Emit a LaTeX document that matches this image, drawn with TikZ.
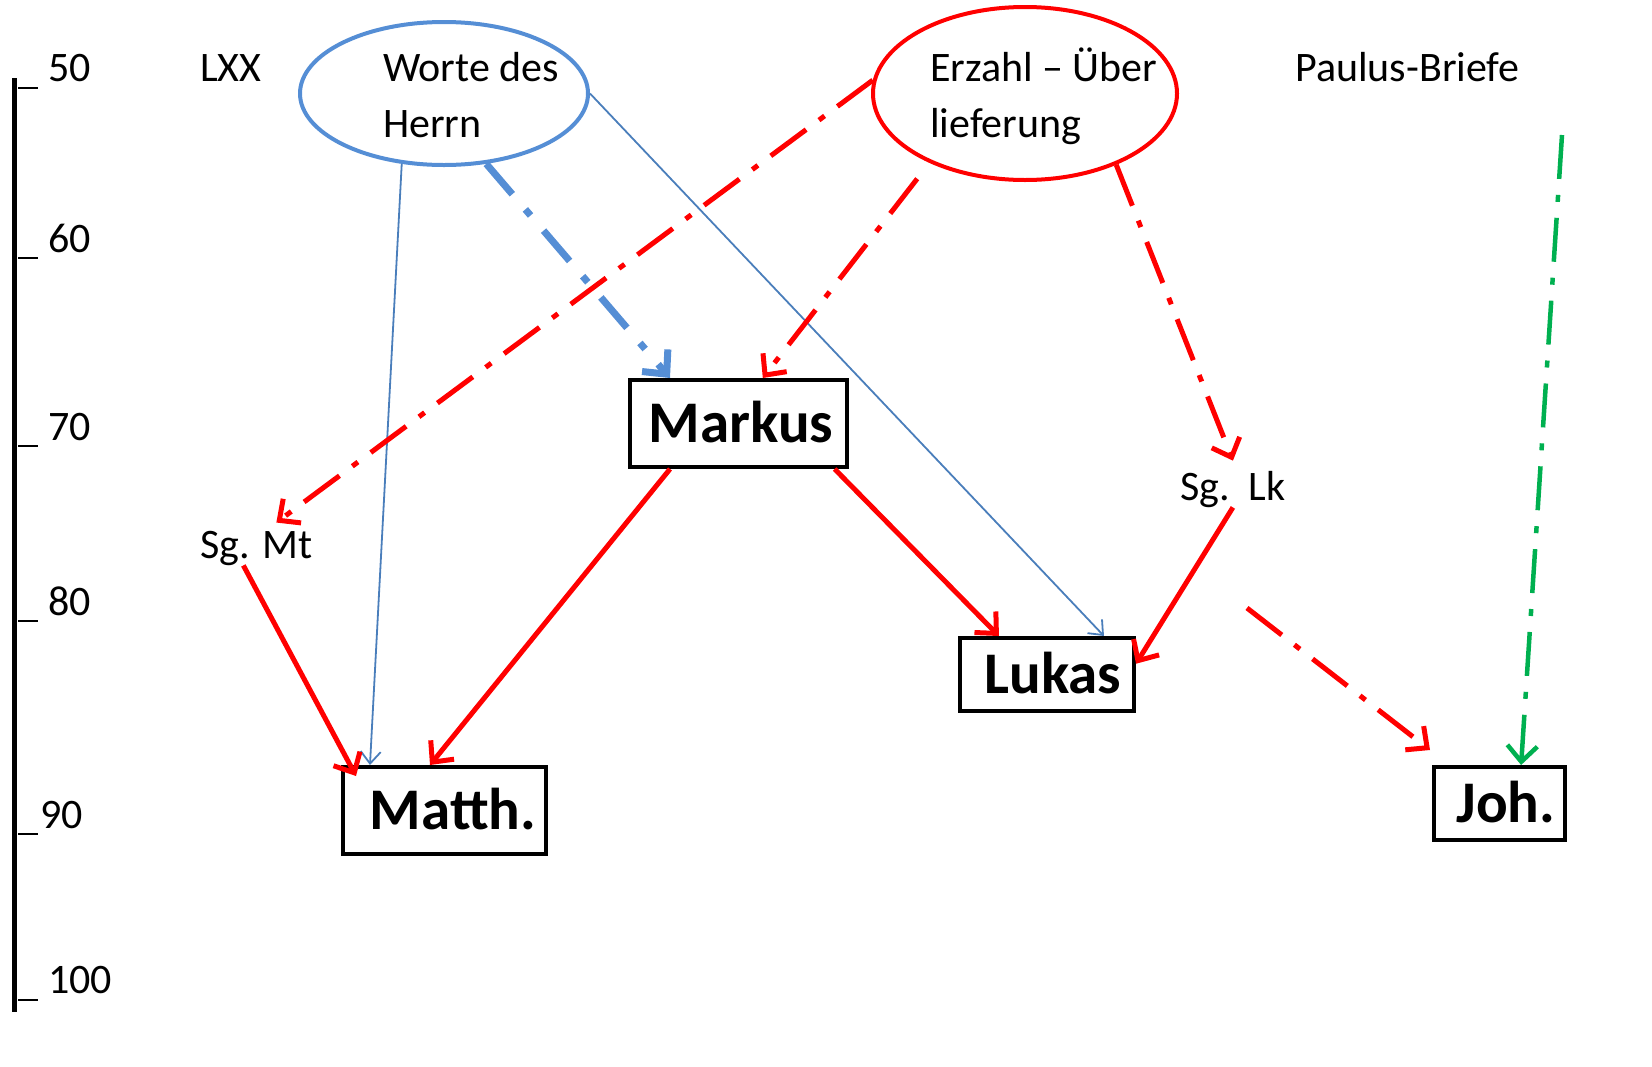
\documentclass[tikz,border=0pt]{standalone}
\usepackage{fontspec}
\setmainfont{Carlito}
\usetikzlibrary{shapes.geometric,arrows.meta,calc}
\definecolor{ared}{HTML}{FF0000}
\definecolor{ablue}{HTML}{558ED5}
\definecolor{tblue}{HTML}{4A7EBB}
\definecolor{agreen}{HTML}{00B050}
\begin{document}
\begin{tikzpicture}[x=1pt,y=-1pt,
  lbl/.style={font=\fontsize{42}{50}\selectfont, inner sep=0pt, anchor=base west},
  book/.style={draw, line width=4pt, font=\bfseries\fontsize{59}{60}\selectfont, inner sep=0pt, text height=38pt, text depth=0pt},
  oval/.style={ellipse, line width=4pt, inner sep=0pt},
  tickmark/.style={line width=2.5pt},
  redsolid/.style={draw=ared, line width=5pt, -{Straight Barb[length=16pt,width=30pt]}},
  reddd/.style={draw=ared, line width=5pt, dash pattern=on 44pt off 16pt on 7pt off 16pt, -{Straight Barb[length=16pt,width=30pt]}},
  bluedd/.style={draw=ablue, line width=7pt, dash pattern=on 40pt off 20pt on 8pt off 20pt, -{Straight Barb[length=18pt,width=34pt]}},
  thinblue/.style={draw=tblue, line width=1.8pt, -{Straight Barb[length=12pt,width=20pt]}},
  greendd/.style={draw=agreen, line width=4.5pt, dash pattern=on 44pt off 16pt on 7pt off 16pt, -{Straight Barb[length=16pt,width=30pt]}}
]
\useasboundingbox (0,0) rectangle (1652,1066);

% time axis
\draw[line width=5pt] (14,78) -- (14,1012);
\foreach \yy in {88,258,446,621,834,1000} \draw[tickmark] (18,\yy) -- (38,\yy);
\node[lbl] (t50) at (48,81) {50};
\node[lbl] (t60) at (48,252) {60};
\node[lbl] (t70) at (48,440) {70};
\node[lbl] (t80) at (48,615) {80};
\node[lbl] (t90) at (40,828) {90};
\node[lbl] (t100) at (48,993) {100};

% top labels
\node[lbl] (lxx) at (200,81) {LXX};
\node[lbl] (paulus) at (1295,81) {Paulus-Briefe};

% ellipses
\node[oval, draw=ablue, minimum width=288pt, minimum height=143pt] (wdh) at (444,93.5) {};
\node[lbl] (wdh1) at (383,81) {Worte des};
\node[lbl] (wdh2) at (383,137) {Herrn};
\node[oval, draw=ared, minimum width=304pt, minimum height=173pt] (ez) at (1025,93.5) {};
\node[lbl] (ez1) at (930,81) {Erzahl – Über};
\node[lbl] (ez2) at (930,137) {lieferung};

% sources
\node[lbl] (sgmt) at (200,558) {Sg. Mt};
\node[lbl] (sglk) at (1180,500) {Sg.\ \ Lk};

% gospels
\node[book, minimum width=217pt, minimum height=87pt] (markus) at (738.5,423.5) {\hspace*{5pt}Markus};
\node[book, minimum width=203pt, minimum height=87pt] (matth) at (444.5,810.5) {\hspace*{17pt}Matth.};
\node[book, minimum width=174pt, minimum height=73pt] (lukas) at (1047,674.5) {\hspace*{12pt}Lukas};
\node[book, minimum width=131pt, minimum height=73pt] (joh) at (1499.5,803.5) {\hspace*{13pt}Joh.};

% connectors
\draw[thinblue] (wdh.239) -- ($(matth.north west)!0.14!(matth.north east)$);
\draw[thinblue] (wdh.east) -- ($(lukas.north west)!0.82!(lukas.north east)$);
\draw[bluedd] (wdh.301) -- ($(markus.north west)!0.19!(markus.north east)$);
\draw[reddd] (ez.175) -- ($(sgmt.north)+(20,-8)$);
\draw[reddd, shorten <=20pt] (ez.216) -- ($(markus.north west)!0.61!(markus.north east)$);
\draw[reddd] (ez.322) -- ($(sglk.north)+(0,-10)$);
\draw[redsolid] ($(sgmt.south)+(-13,0)$) -- ($(matth.north west)+(15,11)$);
\draw[redsolid] ($(markus.south west)!0.19!(markus.south east)$) -- ($(matth.north west)!0.43!(matth.north east)$);
\draw[redsolid] ($(markus.south west)!0.935!(markus.south east)$) -- ($(lukas.north west)!0.23!(lukas.north east)$);
\draw[redsolid] (sglk.south) -- ($(lukas.north east)!0.36!(lukas.south east)$);
\coordinate (lkj) at (1247,608);
\draw[reddd] (lkj) -- ($(joh.north west)+(-2,-15)$);
\coordinate (paul) at (1562,135);
\draw[greendd] (paul) -- ($(joh.north west)!0.66!(joh.north east)$);
\end{tikzpicture}
\end{document}
